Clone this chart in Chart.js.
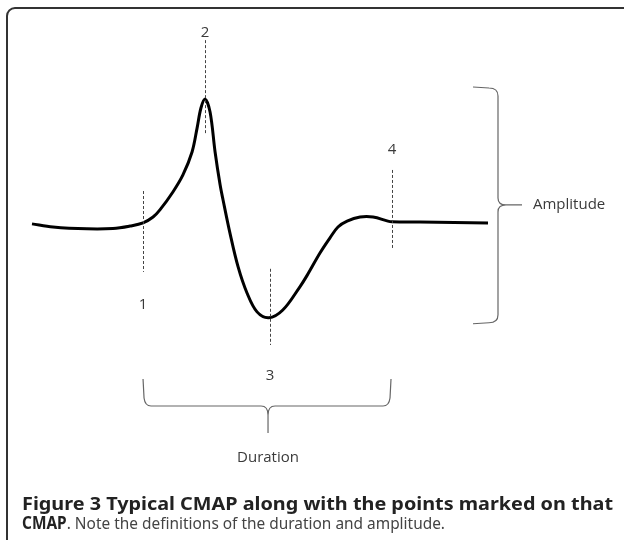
<!DOCTYPE html>
<html>
<head>
<meta charset="utf-8">
<script src="https://cdn.jsdelivr.net/npm/chart.js@4.4.1/dist/chart.umd.min.js"></script>
<style>
  html, body { margin: 0; padding: 0; width: 624px; height: 540px; overflow: hidden; background: #fff; }
  #frame { position: absolute; left: 6px; top: 7px; width: 660px; height: 600px; border: 2px solid #333; border-radius: 9px; box-sizing: border-box; }
  #wrap { position: absolute; left: 0; top: 0; width: 624px; height: 540px; }
  #caption { position: absolute; left: 22px; top: 494px; font-family: 'Noto Sans', sans-serif; font-size: 17px; line-height: 19px; }
  .line { white-space: nowrap; display: inline-block; transform-origin: 0 0; }
  .b { font-weight: bold; color: #222; }
  .r { color: #444; }
</style>
</head>
<body>
<div id="frame"></div>
<div id="wrap"><canvas id="grafico" width="624" height="540"></canvas></div>
<div id="caption">
  <div><span class="line b" id="l1">Figure 3 Typical CMAP along with the points marked on that</span></div>
  <div><span class="line r" id="l2"><span class="b">CMAP</span>. Note the definitions of the duration and amplitude.</span></div>
</div>
<script>
// tempo (ms) e amplitude (mV) do CMAP
const timeMs = [0.0, 0.92, 2.41, 3.55, 4.30, 4.87, 5.31, 5.61, 6.18, 6.62, 7.02, 7.24, 7.41, 7.59,
  7.81, 8.03, 8.25, 8.38, 8.68, 9.04, 9.43, 9.87, 10.39, 11.0, 11.75, 12.06, 12.63, 13.07, 13.42,
  13.82, 14.39, 14.96, 15.61, 15.79, 17.02, 20.0];
const amplitudeMv = [-0.03, -0.13, -0.19, -0.18, -0.10, 0.0, 0.19, 0.42, 1.0, 1.55, 2.29, 3.06, 3.71, 4.0,
  3.58, 2.29, 1.23, 0.74, -0.32, -1.42, -2.26, -2.87, -3.06, -2.81, -2.06, -1.70, -0.97, -0.48, -0.13,
  0.06, 0.19, 0.19, 0.06, 0.04, 0.03, 0.0];

// pontos marcados
const markerLabels = ['1', '2', '3', '4'];
const markerTimes = [4.87, 7.59, 10.44, 15.79];

const bracketLabels = ['Amplitude', 'Duration'];

// desenha marcadores, chaves e textos
const anotacoes = {
  id: 'anotacoes',
  afterDatasetsDraw(chart) {
    const { ctx, scales: { x, y } } = chart;
    // extensao das linhas tracejadas e posicao dos numeros (em mV)
    const spans = [[1.03, -1.58], [5.9, 2.84], [-1.48, -3.94], [1.71, -0.87]];
    const labelAt = [-2.65, 6.13, -4.94, 2.35];

    ctx.save();
    ctx.strokeStyle = '#444';
    ctx.lineWidth = 1;
    ctx.setLineDash([3, 2]);
    markerTimes.forEach((t, i) => {
      const px = Math.round(x.getPixelForValue(t)) + 0.5;
      ctx.beginPath();
      ctx.moveTo(px, y.getPixelForValue(spans[i][0]));
      ctx.lineTo(px, y.getPixelForValue(spans[i][1]));
      ctx.stroke();
    });
    ctx.setLineDash([]);

    ctx.fillStyle = '#3a3a3a';
    ctx.font = '15px "Open Sans"';
    ctx.textAlign = 'center';
    ctx.textBaseline = 'middle';
    markerTimes.forEach((t, i) => {
      ctx.fillText(markerLabels[i], x.getPixelForValue(t), y.getPixelForValue(labelAt[i]));
    });

    // chave da amplitude
    const bx = x.right + 10;
    const top = y.getPixelForValue(Math.max(...amplitudeMv)) - 12;
    const bot = y.getPixelForValue(Math.min(...amplitudeMv)) + 5;
    const mid = y.getPixelForValue(0) - 18;
    ctx.strokeStyle = '#666';
    ctx.lineWidth = 1.2;
    ctx.beginPath();
    ctx.moveTo(bx - 25, top);
    ctx.lineTo(bx - 9, top + 1);
    ctx.quadraticCurveTo(bx, top + 1, bx, top + 9);
    ctx.lineTo(bx, mid - 7);
    ctx.quadraticCurveTo(bx, mid, bx + 8, mid);
    ctx.lineTo(bx + 24, mid);
    ctx.moveTo(bx + 8, mid);
    ctx.quadraticCurveTo(bx, mid, bx, mid + 7);
    ctx.lineTo(bx, bot - 8);
    ctx.quadraticCurveTo(bx, bot, bx - 9, bot);
    ctx.lineTo(bx - 25, bot + 1);
    ctx.stroke();

    // chave da duracao
    const x1 = x.getPixelForValue(markerTimes[0]);
    const x4 = x.getPixelForValue(markerTimes[3]) - 1;
    const xm = (x1 + x4) / 2 + 1;
    const by = 406;
    ctx.beginPath();
    ctx.moveTo(x1, by - 27);
    ctx.lineTo(x1 + 1, by - 8);
    ctx.quadraticCurveTo(x1 + 2, by, x1 + 8, by);
    ctx.lineTo(xm - 7, by);
    ctx.quadraticCurveTo(xm, by, xm, by + 9);
    ctx.lineTo(xm, by + 27);
    ctx.moveTo(xm, by + 9);
    ctx.quadraticCurveTo(xm, by, xm + 7, by);
    ctx.lineTo(x4 - 8, by);
    ctx.quadraticCurveTo(x4 - 2, by, x4 - 1, by - 8);
    ctx.lineTo(x4, by - 27);
    ctx.stroke();

    ctx.fillStyle = '#3a3a3a';
    ctx.textAlign = 'left';
    ctx.fillText(bracketLabels[0], bx + 35, mid);
    ctx.textAlign = 'center';
    ctx.fillText(bracketLabels[1], xm, 458);
    ctx.restore();
  }
};

const config = {
  type: 'line',
  data: {
    datasets: [{
      data: timeMs.map((t, i) => ({ x: t, y: amplitudeMv[i] })),
      borderColor: '#000',
      borderWidth: 3,
      pointRadius: 0,
      tension: 0.35,
      fill: false,
      clip: false
    }]
  },
  options: {
    responsive: false,
    animation: false,
    events: [],
    layout: { padding: { left: 32, right: 136, top: 99, bottom: 221 } },
    scales: {
      x: { type: 'linear', min: 0, max: 20, display: false },
      y: { type: 'linear', min: -3.1, max: 4.0, display: false }
    },
    plugins: { legend: { display: false }, tooltip: { enabled: false } }
  },
  plugins: [anotacoes]
};

function ajustarLegenda() {
  // comprime cada linha da legenda para a largura da figura
  [['l1', 591], ['l2', 423]].forEach(([id, alvo]) => {
    const el = document.getElementById(id);
    const w = el.getBoundingClientRect().width;
    el.style.transform = 'scaleX(' + (alvo / w) + ')';
  });
}

document.fonts.ready.then(() => {
  ajustarLegenda();
  new Chart(document.getElementById('grafico'), config);
});
</script>
</body>
</html>
